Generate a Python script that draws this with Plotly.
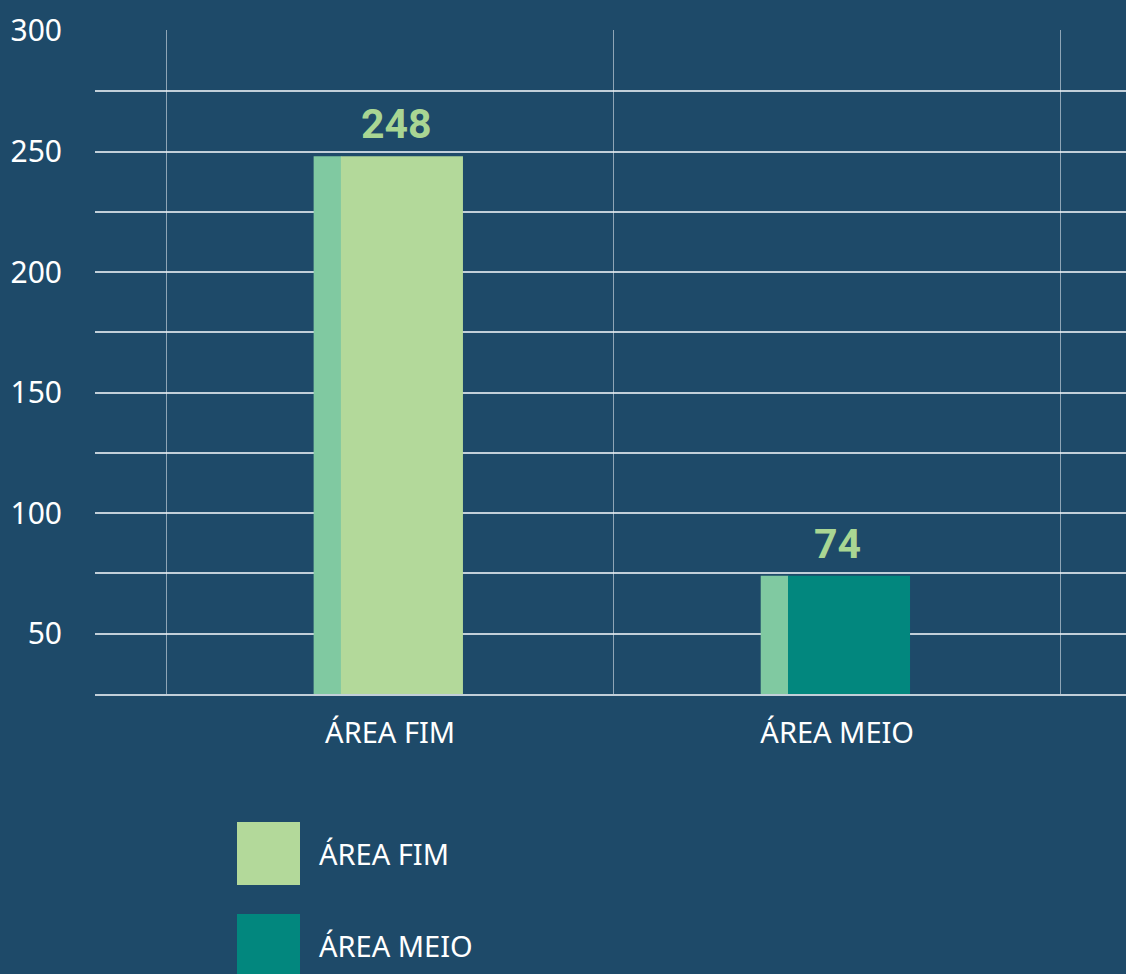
import plotly.graph_objects as go

# ---- data ----
categories = ["ÁREA FIM", "ÁREA MEIO"]
values = [248, 74]
value_labels = ["248", "74"]
y_tickvals = [25, 50, 75, 100, 125, 150, 175, 200, 225, 250, 275, 300]
y_ticktext = ["", "50", "", "100", "", "150", "", "200", "", "250", "", "300"]
legend_names = ["ÁREA FIM", "ÁREA MEIO"]

# ---- style ----
BG = "#1e4a69"
FRONT_COLORS = ["#b3d99a", "#02877e"]
SIDE_COLOR = "#80c9a1"
LABEL_COLOR = "#a9d693"
GRID = "rgba(235,240,245,0.8)"
FONT = "Noto Sans"
LABEL_XSHIFTS = [6, 0]

W, H = 1126, 974
L, R, T, B = 95, 0, 30, 280
PH = H - T - B

def py(pix):
    return (H - B - pix) / PH

def px(pix):
    return (pix - L) / (W - L - R)

fig = go.Figure()
fig.add_trace(go.Bar(
    x=categories, y=values, width=0.062, offset=-0.171,
    marker=dict(color=SIDE_COLOR, line=dict(width=0)),
    showlegend=False, hoverinfo="skip"))
fig.add_trace(go.Bar(
    x=categories, y=values, width=0.273, offset=-0.110,
    marker=dict(color=FRONT_COLORS, line=dict(width=0)),
    showlegend=False))

for c, v, t, xs in zip(categories, values, value_labels, LABEL_XSHIFTS):
    fig.add_annotation(x=c, y=v, text="<b>%s</b>" % t, showarrow=False,
                       yanchor="bottom", xshift=xs, yshift=6,
                       font=dict(family="Roboto", size=41, color=LABEL_COLOR))

# legend drawn manually
leg_y = [853, 945]
for name, col, yc in zip(legend_names, FRONT_COLORS, leg_y):
    fig.add_shape(type="rect", xref="paper", yref="paper",
                  x0=px(237), x1=px(300), y0=py(yc - 31), y1=py(yc + 32),
                  fillcolor=col, line=dict(width=0))
    fig.add_annotation(xref="paper", yref="paper", x=px(317), y=py(yc),
                       text=name, showarrow=False, xanchor="left", yanchor="middle",
                       font=dict(family=FONT, size=29, color="white"))

fig.update_layout(
    width=W, height=H,
    margin=dict(l=L, r=R, t=T, b=B),
    paper_bgcolor=BG, plot_bgcolor=BG,
    barmode="overlay",
    font=dict(family=FONT, color="white", size=29),
    xaxis=dict(type="category", range=[-0.66, 1.646], tickson="boundaries",
               showgrid=True, gridcolor="rgba(235,240,245,0.55)", gridwidth=1,
               ticks="", showline=True, linecolor=GRID, linewidth=1.5,
               tickfont=dict(family=FONT, size=29, color="white"),
               ticklabelstandoff=12, zeroline=False),
    yaxis=dict(range=[25, 300.4], tickvals=y_tickvals, ticktext=y_ticktext,
               showgrid=True, gridcolor=GRID, gridwidth=1.5, zeroline=False,
               ticks="", tickfont=dict(family=FONT, size=30, color="white"),
               ticklabelstandoff=32),
)

fig.write_html("out.html", config={"displayModeBar": False},
               post_script="document.body.style.margin='0';document.body.style.padding='0';")
